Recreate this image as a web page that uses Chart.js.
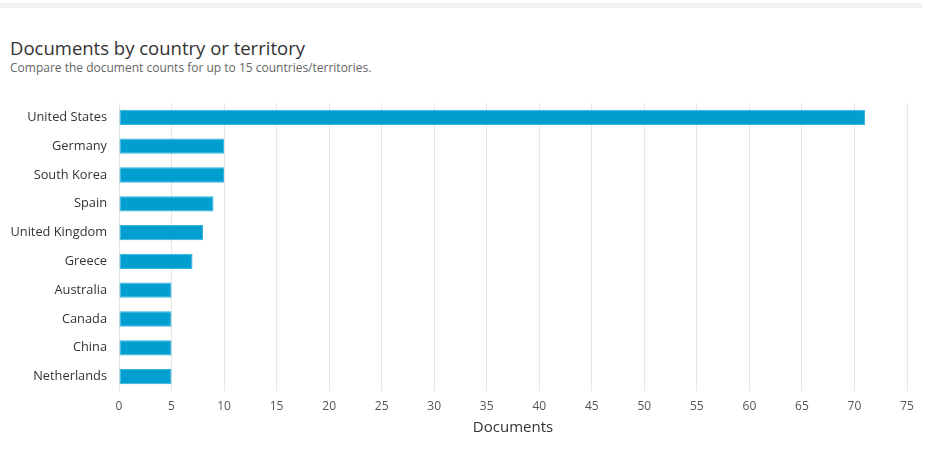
<!DOCTYPE html>
<html>
<head>
<meta charset="utf-8">
<script src="https://cdn.jsdelivr.net/npm/chart.js@4"></script>
<style>
  html, body { margin: 0; padding: 0; background: #fff; }
  body { width: 926px; height: 452px; position: relative; overflow: hidden; font-family: "Open Sans", Lato, sans-serif; }
  .topbar { position: absolute; left: 0; top: 3px; width: 922px; height: 5px; background: #f2f2f2; }
  h1 { position: absolute; left: 10px; top: 35px; margin: 0; font-size: 18.5px; font-weight: 400; color: #333; white-space: nowrap; }
  .sub { position: absolute; left: 10px; top: 59px; margin: 0; font-size: 12px; color: #666; white-space: nowrap; }
  #wrap { position: absolute; left: 0; top: 0; width: 926px; height: 452px; }
</style>
</head>
<body>
<div class="topbar"></div>
<h1>Documents by country or territory</h1>
<p class="sub">Compare the document counts for up to 15 countries/territories.</p>
<div id="wrap"><canvas id="countryChart"></canvas></div>
<script>
const countries = ["United States", "Germany", "South Korea", "Spain", "United Kingdom", "Greece", "Australia", "Canada", "China", "Netherlands"];
const documents = [71, 10, 10, 9, 8, 7, 5, 5, 5, 5];
const axisMax = 75;
const axisStep = 5;

const ctx = document.getElementById("countryChart").getContext("2d");
const chart = new Chart(ctx, {
    type: "bar",
    data: {
        labels: countries,
        datasets: [{
            label: "Documents",
            data: documents,
            backgroundColor: "#009fd0",
            borderColor: "#33b3dd",
            borderWidth: 1,
            borderSkipped: false,
            barPercentage: 0.53,
            categoryPercentage: 1
        }]
    },
    options: {
        indexAxis: "y",
        responsive: true,
        maintainAspectRatio: false,
        animation: false,
        layout: { padding: { left: 0, top: 103, right: 19, bottom: 11 } },
        plugins: {
            legend: { display: false },
            tooltip: { enabled: false }
        },
        scales: {
            x: {
                min: 0,
                max: axisMax,
                ticks: { stepSize: axisStep, color: "#555", padding: 8, font: { size: 12, family: "'Open Sans', Lato, sans-serif" } },
                grid: { color: "#e5e5e5", drawTicks: false },
                border: { display: false },
                title: { display: true, text: "Documents", color: "#333", padding: { top: 0 }, font: { size: 15, family: "'Open Sans', Lato, sans-serif" } },
                afterFit: function (scale) { scale.height = 50; }
            },
            y: {
                ticks: { color: "#333", padding: 12, font: { size: 12.8, family: "'Open Sans', Lato, sans-serif" } },
                grid: { display: false, drawTicks: false },
                border: { display: false },
                afterFit: function (scale) { scale.width = 119; }
            }
        }
    }
});
</script>
</body>
</html>
